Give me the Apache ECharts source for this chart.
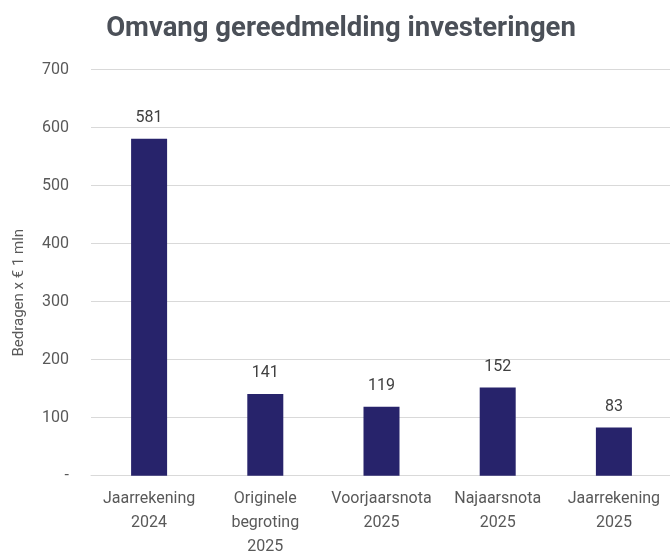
<!DOCTYPE html>
<html>
<head>
<meta charset="utf-8">
<script src="https://cdn.jsdelivr.net/npm/echarts@6/dist/echarts.min.js"></script>
<style>
html,body{margin:0;padding:0;background:#fff;}
#chart{width:670px;height:553px;}
</style>
</head>
<body>
<div id="chart"></div>
<script>
const titleText = 'Omvang gereedmelding investeringen';
const categories = ['Jaarrekening\n2024', 'Originele\nbegroting\n2025', 'Voorjaarsnota\n2025', 'Najaarsnota\n2025', 'Jaarrekening\n2025'];
const values = [581, 141, 119, 152, 83];
const yAxisName = 'Bedragen x € 1 mln';
const yMin = 0, yMax = 700, yStep = 100;

const chart = echarts.init(document.getElementById('chart'), null, {renderer: 'canvas'});
const font = 'Roboto, "Liberation Sans", sans-serif';
chart.setOption({
  animation: false,
  backgroundColor: '#ffffff',
  title: {
    text: titleText,
    left: 336,
    textAlign: 'center',
    top: 10,
    textStyle: {fontFamily: font, fontWeight: 'bold', fontSize: 27.5, color: '#4b5058'}
  },
  grid: {left: 91, right: -2, top: 69.7, bottom: 553 - 475.7, containLabel: false, outerBoundsMode: 'none'},
  xAxis: {
    type: 'category',
    data: categories,
    axisLine: {show: true, lineStyle: {color: '#d9d9d9', width: 1}},
    axisTick: {show: false},
    axisLabel: {interval: 0, margin: 11, fontFamily: font, fontSize: 16, lineHeight: 24, color: '#595959'}
  },
  yAxis: {
    type: 'value',
    min: yMin, max: yMax, interval: yStep,
    name: yAxisName,
    nameLocation: 'middle',
    nameGap: 64,
    nameTextStyle: {fontFamily: font, fontSize: 15, color: '#595959', padding: [0, 40, 0, 0]},
    axisLine: {show: false},
    axisTick: {show: false},
    splitLine: {lineStyle: {color: '#d9d9d9', width: 1}},
    axisLabel: {margin: 22, fontFamily: font, fontSize: 16, color: '#595959',
      formatter: v => v === 0 ? '-' : String(v)}
  },
  series: [{
    type: 'bar',
    data: values,
    barWidth: 36,
    itemStyle: {color: '#27236b'},
    label: {show: true, position: 'top', distance: 13, fontFamily: font, fontSize: 16, color: '#404040'}
  }]
});
</script>
</body>
</html>
